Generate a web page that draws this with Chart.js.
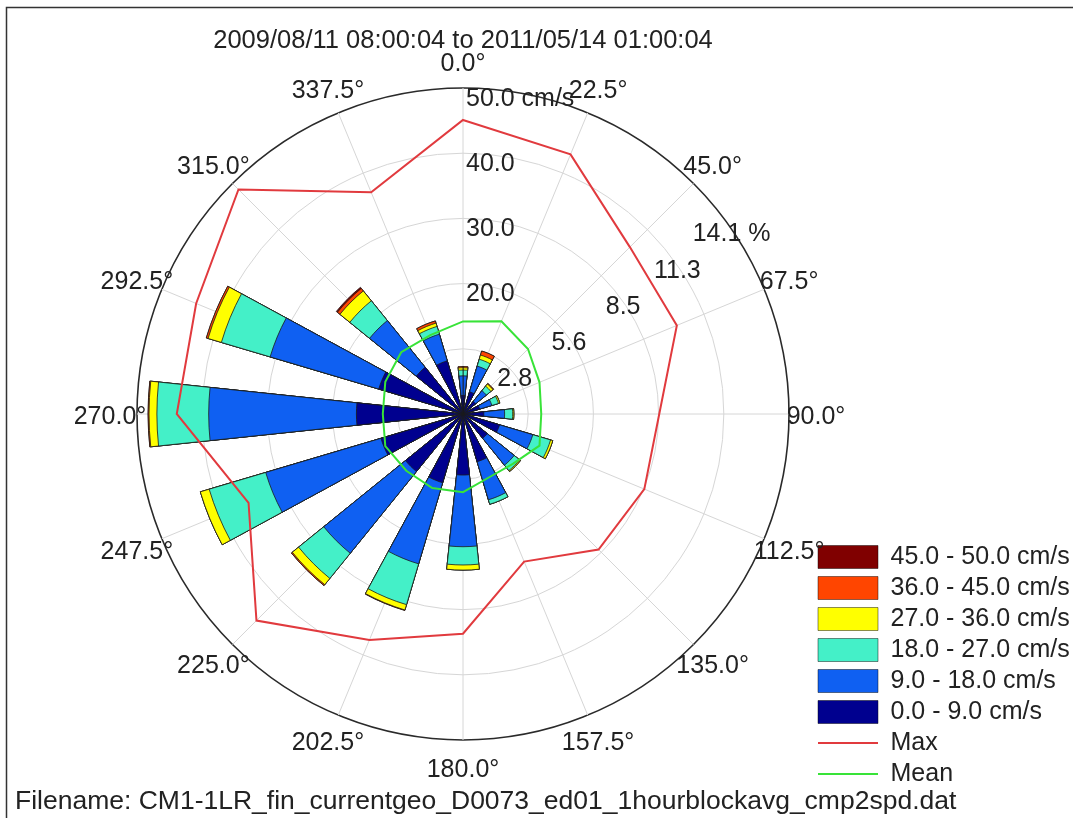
<!DOCTYPE html>
<html>
<head>
<meta charset="utf-8">
<title>Current rose</title>
<script src="https://cdn.jsdelivr.net/npm/chart.js@4.4.1/dist/chart.umd.min.js"></script>
<style>
  html, body { margin: 0; padding: 0; background: #fff; }
</style>
</head>
<body>
<canvas id="rose" width="1073" height="818"></canvas>
<script>
"use strict";

// ----------------------------
// Data
// ----------------------------
const directions = ["0.0°", "22.5°", "45.0°", "67.5°", "90.0°", "112.5°", "135.0°", "157.5°",
                    "180.0°", "202.5°", "225.0°", "247.5°", "270.0°", "292.5°", "315.0°", "337.5°"];

const speedBins = ["0.0 - 9.0 cm/s", "9.0 - 18.0 cm/s", "18.0 - 27.0 cm/s",
                   "27.0 - 36.0 cm/s", "36.0 - 45.0 cm/s", "45.0 - 50.0 cm/s"];
const binColors = ["#00008f", "#0f60f2", "#44f0c8", "#ffff00", "#ff4500", "#800000"];

// frequency (%) of each speed bin, per direction
const freq0to9   = [0.80, 1.00, 0.70, 0.75, 0.90, 1.65, 1.35, 2.15, 2.64, 3.10, 3.20, 3.70, 4.61, 3.80, 2.60, 2.40];
const freq9to18  = [0.85, 1.16, 0.60, 0.55, 0.90, 1.50, 1.50, 1.72, 3.10, 3.66, 4.55, 5.20, 6.39, 4.90, 2.60, 1.20];
const freq18to27 = [0.25, 0.31, 0.25, 0.30, 0.35, 0.80, 0.30, 0.20, 0.79, 1.84, 1.40, 2.55, 2.24, 2.20, 1.10, 0.35];
const freq27to36 = [0.10, 0.19, 0.12, 0.06, 0.05, 0.10, 0.05, 0.00, 0.22, 0.24, 0.35, 0.40, 0.34, 0.60, 0.55, 0.15];
const freq36to45 = [0.05, 0.18, 0.03, 0.00, 0.00, 0.00, 0.00, 0.00, 0.00, 0.02, 0.05, 0.00, 0.04, 0.08, 0.14, 0.10];
const freq45to50 = [0.00, 0.00, 0.00, 0.00, 0.00, 0.00, 0.00, 0.00, 0.00, 0.00, 0.00, 0.00, 0.00, 0.00, 0.06, 0.00];

// speed per direction (cm/s)
const maxSpeed  = [45.1, 43.1, 36.2, 35.5, 30.1, 30.1, 29.4, 24.5, 33.7, 37.5, 44.8, 35.6, 43.9, 44.3, 48.7, 36.8];
const meanSpeed = [14.2, 15.4, 14.1, 12.7, 12.0, 12.7, 10.8, 10.5, 12.0, 12.3, 12.3, 12.9, 12.3, 12.9, 13.4, 13.1];

const pctTicks = [0, 2.82, 5.64, 8.46, 11.28, 14.1];
const pctTickLabels = ["", "2.8", "5.6", "8.5", "11.3", "14.1 %"];
const speedTicks = [20, 30, 40, 50];
const speedTickLabels = ["20.0", "30.0", "40.0", "50.0 cm/s"];

const titleText = "2009/08/11 08:00:04 to 2011/05/14 01:00:04";
const fileText = "Filename: CM1-1LR_fin_currentgeo_D0073_ed01_1hourblockavg_cmp2spd.dat";

// ----------------------------
// Look
// ----------------------------
const FONT_FAMILY = "'Liberation Sans', Arial, sans-serif";
const FONT_SIZE = 25;
const TEXT = "#222";
const MAX_COLOR = "#e13a3e";
const MEAN_COLOR = "#38e338";
const GRID = "#d6d6d6";
const PETAL = 12;           // angular width of one petal, degrees
const GAP = 22.5 - PETAL;

// ----------------------------
// Build what the library needs
// ----------------------------
const freqBins = [freq0to9, freq9to18, freq18to27, freq27to36, freq36to45, freq45to50];

function cumulative(upTo) {
  return directions.map((_, d) => freqBins.slice(0, upTo + 1).reduce((s, b) => s + b[d], 0));
}

// north petal is split in two halves (first and last slice), gaps in between
function toSlices(values) {
  const out = [values[0]];
  for (let d = 1; d < values.length; d++) out.push(0, values[d]);
  out.push(0, values[0]);
  return out;
}

const sliceAngles = toSlices(directions.map(() => PETAL)).map((a, i, arr) =>
  (i === 0 || i === arr.length - 1) ? PETAL / 2 : (i % 2 ? GAP : PETAL));
const sliceBorders = sliceAngles.map((a, i) => (i % 2 ? 0 : 0.8));

const spokeLabels = directions.flatMap(d => [d, ""]);
const toSpokes = vals => vals.flatMap(v => [v, null]);

const petalSets = speedBins.map((label, k) => ({
  type: "polarArea",
  label,
  data: toSlices(cumulative(k)),
  angle: sliceAngles,
  backgroundColor: binColors[k],
  borderColor: "#1b1b1b",
  borderWidth: sliceBorders,
  order: k + 1
}));

const lineSets = [
  { type: "radar", label: "Max", data: toSpokes(maxSpeed), borderColor: MAX_COLOR },
  { type: "radar", label: "Mean", data: toSpokes(meanSpeed), borderColor: MEAN_COLOR }
].map(ds => Object.assign(ds, {
  rAxisID: "rSpeed", borderWidth: 2, pointRadius: 0, fill: false, spanGaps: true, order: 0
}));

// ----------------------------
// Plugins: page frame, text around the rose, legend spot
// ----------------------------
const roseText = {
  id: "roseText",
  beforeDraw(chart) {
    const { ctx, width, height } = chart;
    ctx.save();
    ctx.fillStyle = "#fff";
    ctx.fillRect(0, 0, width, height);
    ctx.strokeStyle = "#333";
    ctx.lineWidth = 1.5;
    ctx.beginPath();
    ctx.moveTo(6.5, height);
    ctx.lineTo(6.5, 7.5);
    ctx.lineTo(width, 7.5);
    ctx.stroke();
    ctx.restore();
  },
  afterDraw(chart) {
    const { ctx } = chart;
    const r = chart.scales.r;
    const s = chart.scales.rSpeed;
    ctx.save();
    ctx.font = `${FONT_SIZE}px ${FONT_FAMILY}`;
    ctx.fillStyle = TEXT;
    ctx.textAlign = "center";
    ctx.textBaseline = "middle";

    directions.forEach((lab, k) => {
      const p = r.getPointPosition(2 * k, r.drawingArea + 27);
      ctx.fillText(lab, p.x, p.y + 3);
    });

    // frequency ticks along the 56.25° spoke (label slot 5)
    r.ticks.forEach(t => {
      if (!t.label) return;
      const p = r.getPointPosition(5, r.getDistanceFromCenterForValue(t.value) - 3);
      ctx.fillText(t.label, p.x, p.y);
    });

    // speed ticks just right of the north spoke
    ctx.textAlign = "left";
    s.ticks.forEach(t => {
      const p = s.getPointPosition(0, s.getDistanceFromCenterForValue(t.value) - 11);
      ctx.fillText(t.label, p.x + 3, p.y);
    });
    ctx.restore();
  }
};

const legendSpot = {
  id: "legendSpot",
  afterLayout(chart) {
    const lg = chart.legend;
    lg.left = 812;
    lg.right = 1073;
    lg.bottom = 792.5;
  }
};

// ----------------------------
// Chart
// ----------------------------
Chart.defaults.font.family = FONT_FAMILY;
Chart.defaults.font.size = FONT_SIZE;
Chart.defaults.color = TEXT;

new Chart(document.getElementById("rose"), {
  type: "polarArea",
  data: {
    labels: spokeLabels,
    datasets: [...lineSets, ...petalSets]
  },
  options: {
    responsive: false,
    animation: false,
    events: [],
    layout: { padding: { left: 15, top: 12, right: 0, bottom: 0 } },
    scales: {
      r: {
        type: "radialLinear",
        min: 0,
        max: 14.1,
        ticks: { display: false, stepSize: 2.82, callback: (v, i) => pctTickLabels[i] },
        afterBuildTicks: scale => { scale.ticks = pctTicks.map(v => ({ value: v })); },
        grid: {
          circular: true,
          color: ctx => (ctx.index === pctTicks.length - 1 ? "#2a2a2a" : GRID),
          lineWidth: ctx => (ctx.index === pctTicks.length - 1 ? 1.6 : 1)
        },
        angleLines: {
          display: true,
          color: GRID,
          lineWidth: ctx => (ctx.index % 2 ? 0 : 1)
        },
        pointLabels: { display: false }
      },
      rSpeed: {
        type: "radialLinear",
        axis: "r",
        display: false,
        min: 0,
        max: 50,
        ticks: { display: false, stepSize: 10, callback: (v, i) => speedTickLabels[i] },
        afterBuildTicks: scale => { scale.ticks = speedTicks.map(v => ({ value: v })); },
        pointLabels: { display: false }
      }
    },
    plugins: {
      title: {
        display: true,
        text: titleText,
        fullSize: false,
        color: TEXT,
        font: { size: 25.5, weight: "normal" },
        padding: { top: 13.7, bottom: 31.7 }
      },
      subtitle: {
        display: true,
        position: "bottom",
        align: "start",
        text: fileText,
        color: TEXT,
        font: { size: 26.5, weight: "normal" },
        padding: { top: 46, bottom: 0.2 }
      },
      legend: {
        display: true,
        position: "right",
        align: "end",
        maxWidth: 162,
        labels: {
          usePointStyle: true,
          pointStyleWidth: 60,
          boxHeight: 23,
          padding: 6,
          color: TEXT,
          font: { size: FONT_SIZE },
          generateLabels: () => [
            ...speedBins.map((text, k) => ({
              text, fillStyle: binColors[k], strokeStyle: "rgba(0,0,0,0.45)", lineWidth: 1,
              pointStyle: "rect", fontColor: TEXT, hidden: false, datasetIndex: 2 + k
            })).reverse(),
            { text: "Max", fillStyle: MAX_COLOR, strokeStyle: MAX_COLOR, lineWidth: 2,
              pointStyle: "line", fontColor: TEXT, hidden: false, datasetIndex: 0 },
            { text: "Mean", fillStyle: MEAN_COLOR, strokeStyle: MEAN_COLOR, lineWidth: 2,
              pointStyle: "line", fontColor: TEXT, hidden: false, datasetIndex: 1 }
          ]
        }
      },
      tooltip: { enabled: false }
    }
  },
  plugins: [roseText, legendSpot]
});
</script>
</body>
</html>
